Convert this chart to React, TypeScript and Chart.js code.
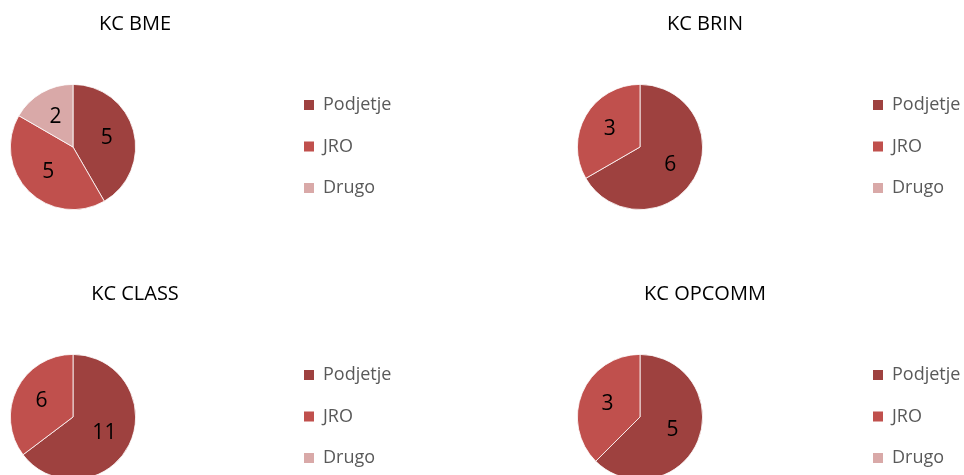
import React, { useEffect, useRef } from "react";
import { Chart, registerables } from "chart.js";

Chart.register(...registerables);

// ---- data ----
const categories = ["Podjetje", "JRO", "Drugo"];
const chartTitles = ["KC BME", "KC BRIN", "KC CLASS", "KC OPCOMM"];
const bmeValues = [5, 5, 2];
const brinValues = [6, 3, 0];
const classValues = [11, 6, 0];
const opcommValues = [5, 3, 0];

// ---- styles ----
const sliceColors = ["#9E413F", "#C0504D", "#D9A9A8"];
const FONT = "'Open Sans', 'DejaVu Sans', sans-serif";

// Places chart area (pie), title block and legend inside each cell
const cellLayoutPlugin = {
  id: "cellLayout",
  afterLayout(chart: any, _args: any, opts: any) {
    const s = opts.pieSize;
    chart.chartArea = {
      left: opts.pieLeft,
      top: opts.pieTop,
      right: opts.pieLeft + s,
      bottom: opts.pieTop + s,
      width: s,
      height: s,
    };
    const t = chart.titleBlock;
    if (t) {
      t.left = 0;
      t.right = opts.titleCenter * 2;
      t.width = t.right - t.left;
    }
    const lg = chart.legend;
    if (lg) {
      const pad = lg.options.labels.padding;
      lg.left = opts.legendBoxX - pad;
      lg.right = chart.width;
      lg.width = lg.right - lg.left;
      lg.top = opts.legendTop;
      lg.bottom = chart.height + 200;
      lg.height = lg.bottom - lg.top;
    }
  },
};

// Draws the value of each non-zero slice inside it
const valueLabelPlugin = {
  id: "valueLabels",
  afterDatasetsDraw(chart: any, _args: any, opts: any) {
    const ctx = chart.ctx;
    const meta = chart.getDatasetMeta(0);
    const data = chart.data.datasets[0].data as number[];
    ctx.save();
    ctx.font = `${opts.size}px ${FONT}`;
    ctx.fillStyle = opts.color;
    ctx.textAlign = "center";
    ctx.textBaseline = "middle";
    meta.data.forEach((arc: any, i: number) => {
      const v = data[i];
      if (!v) return;
      const p = arc.getProps(["x", "y", "startAngle", "endAngle", "outerRadius"], true);
      const mid = (p.startAngle + p.endAngle) / 2;
      const r = p.outerRadius * opts.radiusFactor;
      ctx.fillText(String(v), p.x + Math.cos(mid) * r, p.y + Math.sin(mid) * r);
    });
    ctx.restore();
  },
};

type CellProps = {
  title: string;
  values: number[];
  left: number;
  top: number;
  width: number;
  height: number;
  titleCenter: number;
  legendBoxX: number;
};

function PieCell({ title, values, left, top, width, height, titleCenter, legendBoxX }: CellProps) {
  const ref = useRef<HTMLCanvasElement>(null);
  useEffect(() => {
    const defaultGen = (Chart as any).overrides.pie.plugins.legend.labels.generateLabels;
    const chart = new Chart(ref.current as HTMLCanvasElement, {
      type: "pie",
      data: {
        labels: categories,
        datasets: [
          {
            data: values,
            backgroundColor: sliceColors,
            borderColor: "#ffffff",
            borderWidth: 0.8,
          },
        ],
      },
      options: {
        responsive: false,
        animation: false,
        devicePixelRatio: 1,
        layout: { padding: 0 },
        plugins: {
          title: {
            display: true,
            text: title,
            color: "#000000",
            font: { family: FONT, size: 20, weight: "normal" as any },
            padding: { top: 12, bottom: 0 },
          },
          legend: {
            display: true,
            position: "right",
            align: "start",
            labels: {
              boxWidth: 10,
              boxHeight: 10,
              color: "#595959",
              font: { family: FONT, size: 18 },
              padding: 23.5,
              generateLabels: (c: any) =>
                defaultGen(c).map((l: any) => ({ ...l, lineWidth: 0, strokeStyle: "rgba(0,0,0,0)" })),
            },
          },
          tooltip: { enabled: false },
          cellLayout: {
            pieLeft: 10,
            pieTop: 84,
            pieSize: 126,
            titleCenter,
            legendBoxX,
            legendTop: 72.5,
          },
          valueLabels: { size: 21, color: "#000000", radiusFactor: 0.56 },
        } as any,
      },
      plugins: [cellLayoutPlugin, valueLabelPlugin],
    });
    return () => chart.destroy();
  }, []);
  return (
    <canvas
      ref={ref}
      width={width}
      height={height}
      style={{ position: "absolute", left, top, width, height, display: "block" }}
    />
  );
}

export default function App() {
  return (
    <div
      style={{
        position: "fixed",
        left: 0,
        top: 0,
        width: 964,
        height: 475,
        overflow: "hidden",
        background: "#ffffff",
      }}
    >
      <PieCell title={chartTitles[0]} values={bmeValues} left={0} top={0} width={480} height={270} titleCenter={135} legendBoxX={304} />
      <PieCell title={chartTitles[1]} values={brinValues} left={567} top={0} width={397} height={270} titleCenter={138} legendBoxX={306} />
      <PieCell title={chartTitles[2]} values={classValues} left={0} top={270} width={480} height={270} titleCenter={135} legendBoxX={304} />
      <PieCell title={chartTitles[3]} values={opcommValues} left={567} top={270} width={397} height={270} titleCenter={138} legendBoxX={306} />
    </div>
  );
}
